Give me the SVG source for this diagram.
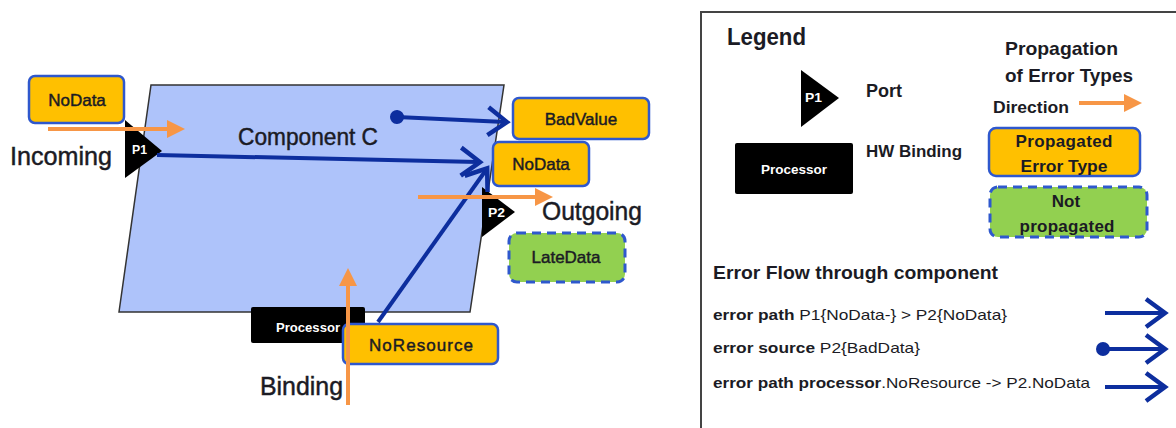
<svg xmlns="http://www.w3.org/2000/svg" width="1176" height="428" viewBox="0 0 1176 428">
  <style>
    .t { font-family: "Liberation Sans", Arial, sans-serif; fill: #1b1b24; }
    .m { stroke: #1b1b24; stroke-width: 0.45; }
    .b { font-weight: bold; }
    .port { fill: #000; }
    .portlbl { font-family: "Liberation Sans", Arial, sans-serif; font-weight: bold; font-size: 13px; fill: #fff; }
    .err { fill: #FFC000; stroke: #2F58CD; stroke-width: 2.5; }
    .np { fill: #92D050; stroke: #2F58CD; stroke-width: 3; stroke-dasharray: 9 6; }
    .hw { fill: #000; }
    .hwlbl { font-family: "Liberation Sans", Arial, sans-serif; font-weight: bold; font-size: 13px; fill: #fff; }
    .prop { stroke: #F79646; stroke-width: 4; fill: none; marker-end: url(#orangeHead); }
    .flow { stroke: #0D2E9E; stroke-width: 4; fill: none; marker-end: url(#blueHead); }
    .src { marker-start: url(#blueDot); }
  </style>
  <defs>
    <marker id="orangeHead" markerUnits="userSpaceOnUse" markerWidth="20" markerHeight="20" refX="8" refY="9" orient="auto" overflow="visible">
      <path d="M0,0 L18,9 L0,18 z" fill="#F79646"/>
    </marker>
    <marker id="blueHead" markerUnits="userSpaceOnUse" markerWidth="26" markerHeight="34" refX="20" refY="16" orient="auto" overflow="visible">
      <path d="M3,2 L22,16 L3,30" fill="none" stroke="#0D2E9E" stroke-width="4.5"/>
    </marker>
    <marker id="blueDot" markerUnits="userSpaceOnUse" markerWidth="16" markerHeight="16" refX="8" refY="8" orient="auto" overflow="visible">
      <circle cx="8" cy="8" r="7" fill="#0D2E9E"/>
    </marker>
  </defs>

  <!-- Component C -->
  <g id="componentC">
    <polygon points="151,85 504,85 470,312 119,312" fill="#AEC3FA" stroke="#333" stroke-width="1.5"/>
    <text class="t m" x="238" y="145" font-size="24" textLength="140" lengthAdjust="spacingAndGlyphs">Component C</text>
  </g>

  <!-- Ports -->
  <g id="portP1">
    <polygon class="port" points="125,120 162,151 125,178"/>
    <text class="portlbl" x="132" y="154" textLength="15" lengthAdjust="spacingAndGlyphs">P1</text>
  </g>
  <g id="portP2">
    <polygon class="port" points="482,187 515,212 482,237"/>
    <text class="portlbl" x="488" y="217" textLength="17" lengthAdjust="spacingAndGlyphs">P2</text>
  </g>

  <!-- Incoming error type -->
  <g id="inNoData">
    <rect class="err" x="29" y="76" width="95" height="47" rx="6"/>
    <text class="t m" x="77" y="106" font-size="17" text-anchor="middle">NoData</text>
  </g>
  <g id="incomingLabel">
    <text class="t m" x="10" y="165" font-size="25" textLength="102" lengthAdjust="spacingAndGlyphs">Incoming</text>
  </g>

  <!-- Outgoing error types -->
  <g id="outBadValue">
    <rect class="err" x="513" y="98" width="136" height="41" rx="6"/>
    <text class="t m" x="581" y="125" font-size="17" text-anchor="middle">BadValue</text>
  </g>
  <g id="outNoData">
    <rect class="err" x="493" y="142" width="96" height="44" rx="6"/>
    <text class="t m" x="541" y="170" font-size="17" text-anchor="middle">NoData</text>
  </g>
  <g id="outgoingLabel">
    <text class="t m" x="542" y="220" font-size="25" textLength="100" lengthAdjust="spacingAndGlyphs">Outgoing</text>
  </g>
  <g id="outLateData">
    <rect class="np" x="509" y="233" width="116" height="49" rx="8"/>
    <text class="t m" x="566" y="263" font-size="17" text-anchor="middle">LateData</text>
  </g>

  <!-- Processor binding -->
  <g id="processor">
    <rect class="hw" x="251" y="307" width="114" height="36" rx="2"/>
    <text class="hwlbl" x="308" y="332" text-anchor="middle" textLength="64" lengthAdjust="spacingAndGlyphs">Processor</text>
  </g>
  <g id="noResource">
    <rect class="err" x="343" y="324" width="155" height="40" rx="6"/>
    <text class="t m" x="421" y="351" font-size="17" text-anchor="middle" textLength="104" lengthAdjust="spacing">NoResource</text>
  </g>
  <g id="bindingLabel">
    <text class="t m" x="260" y="395" font-size="25" textLength="83" lengthAdjust="spacingAndGlyphs">Binding</text>
  </g>

  <!-- Connectors: error flows and propagation directions -->
  <g id="connectors">
    <line class="flow" x1="157" y1="155" x2="478" y2="162"/>
    <line class="flow src" x1="397" y1="117" x2="505" y2="122"/>
    <line class="flow" x1="378" y1="322" x2="486" y2="170"/>
    <line class="prop" x1="48" y1="129" x2="175" y2="129"/>
    <line class="prop" x1="418" y1="197" x2="543" y2="197"/>
    <line class="prop" x1="348" y1="405" x2="348" y2="278"/>
  </g>

  <!-- Legend -->
  <g id="legend">
    <rect x="701" y="12" width="500" height="430" fill="none" stroke="#444" stroke-width="2"/>
    <text class="t b" x="727" y="45" font-size="24" textLength="79" lengthAdjust="spacingAndGlyphs">Legend</text>

    <polygon class="port" points="801,70 839,98 801,127"/>
    <text class="portlbl" x="805" y="102" textLength="17" lengthAdjust="spacingAndGlyphs">P1</text>
    <text class="t b" x="866" y="97" font-size="18" textLength="36" lengthAdjust="spacingAndGlyphs">Port</text>

    <rect class="hw" x="735" y="143" width="118" height="51" rx="2"/>
    <text class="hwlbl" x="794" y="174" text-anchor="middle" textLength="66" lengthAdjust="spacingAndGlyphs">Processor</text>
    <text class="t b" x="866" y="157" font-size="17" textLength="96" lengthAdjust="spacingAndGlyphs">HW Binding</text>

    <text class="t b" x="1005" y="55" font-size="19" textLength="113" lengthAdjust="spacingAndGlyphs">Propagation</text>
    <text class="t b" x="1005" y="82" font-size="19" textLength="128" lengthAdjust="spacingAndGlyphs">of Error Types</text>
    <text class="t b" x="993" y="113" font-size="17" textLength="76" lengthAdjust="spacingAndGlyphs">Direction</text>
    <line class="prop" x1="1079" y1="103" x2="1132" y2="103"/>

    <rect class="err" x="989" y="128" width="151" height="48" rx="7"/>
    <text class="t b" x="1064" y="147" font-size="17" text-anchor="middle" textLength="97" lengthAdjust="spacing">Propagated</text>
    <text class="t b" x="1064" y="172" font-size="17" text-anchor="middle" textLength="87" lengthAdjust="spacingAndGlyphs">Error Type</text>

    <rect class="np" x="990" y="187" width="157" height="50" rx="8"/>
    <text class="t b" x="1066" y="207" font-size="17" text-anchor="middle">Not</text>
    <text class="t b" x="1067" y="232" font-size="17" text-anchor="middle" textLength="95" lengthAdjust="spacing">propagated</text>

    <text class="t b" x="713" y="279" font-size="19" textLength="285" lengthAdjust="spacingAndGlyphs">Error Flow through component</text>
    <text class="t" x="713" y="320" font-size="15" textLength="294" lengthAdjust="spacingAndGlyphs"><tspan class="b">error path </tspan>P1{NoData-} &gt; P2{NoData}</text>
    <text class="t" x="713" y="353" font-size="15" textLength="207" lengthAdjust="spacingAndGlyphs"><tspan class="b">error source </tspan>P2{BadData}</text>
    <text class="t" x="713" y="388" font-size="15" textLength="377" lengthAdjust="spacingAndGlyphs"><tspan class="b">error path processor</tspan>.NoResource -&gt; P2.NoData</text>

    <line class="flow" x1="1105" y1="313" x2="1163" y2="313"/>
    <line class="flow src" x1="1103" y1="349" x2="1163" y2="349"/>
    <line class="flow" x1="1105" y1="387" x2="1163" y2="387"/>
  </g>
</svg>
